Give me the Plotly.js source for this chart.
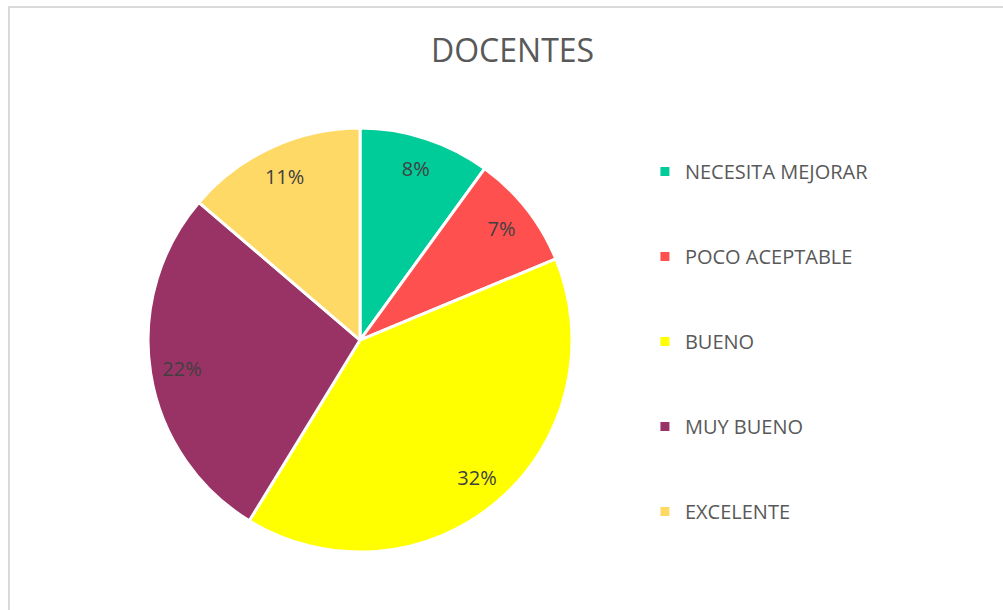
<!DOCTYPE html>
<html>
<head>
<meta charset="utf-8">
<script src="https://cdn.plot.ly/plotly-3.0.1.min.js"></script>
<style>
  html, body { margin: 0; padding: 0; background: #ffffff; }
  #wrap { position: relative; width: 1003px; height: 610px; overflow: hidden; }
  #chart { width: 1003px; height: 610px; }
  #frame { position: absolute; left: 8px; top: 6px; width: 1100px; height: 700px;
           border-left: 2px solid #d9d9d9; border-top: 2px solid #d9d9d9; pointer-events: none; }
</style>
</head>
<body>
<div id="wrap">
  <div id="chart"></div>
  <div id="frame"></div>
</div>
<script>
const categories = ["NECESITA MEJORAR", "POCO ACEPTABLE", "BUENO", "MUY BUENO", "EXCELENTE"];
const values = [8, 7, 32, 22, 11];
const colors = ["#00CC99", "#FF5050", "#FFFF00", "#993366", "#FFD966"];

const FONT = "'Open Sans', Carlito, Calibri, sans-serif";
const dom = { x: [0.1476, 0.5703], y: [0.095, 0.79] };

const pieMain = {
  type: "pie",
  labels: categories,
  values: values,
  sort: false,
  direction: "clockwise",
  rotation: 0,
  domain: dom,
  marker: { colors: colors, line: { color: "#ffffff", width: 3 } },
  textinfo: "none",
  showlegend: false,
  hoverinfo: "label+value"
};

// transparent ring used only to position the value labels near the rim
const pieLabels = {
  type: "pie",
  labels: categories,
  values: values,
  sort: false,
  direction: "clockwise",
  rotation: 0,
  domain: dom,
  hole: 0.7,
  marker: { colors: categories.map(() => "rgba(0,0,0,0)"), line: { width: 0 } },
  texttemplate: "%{value}%",
  textposition: "inside",
  insidetextorientation: "horizontal",
  insidetextfont: { family: FONT, size: 20, color: "#404040" },
  showlegend: false,
  hoverinfo: "skip"
};

// legend entries (one group each so the spacing can follow the original)
const legendTraces = categories.map((c, i) => ({
  type: "scatter",
  mode: "markers",
  x: [null], y: [null],
  name: c,
  legendgroup: "g" + i,
  marker: { symbol: "square", size: 9, color: colors[i] },
  hoverinfo: "skip"
}));

const layout = {
  width: 1003,
  height: 610,
  margin: { l: 0, r: 0, t: 0, b: 0 },
  paper_bgcolor: "#ffffff",
  plot_bgcolor: "rgba(0,0,0,0)",
  font: { family: FONT, color: "#595959" },
  title: {
    text: "DOCENTES",
    x: 0.511, xanchor: "center",
    y: 0.916, yanchor: "middle",
    font: { family: FONT, size: 32, color: "#595959" }
  },
  xaxis: { visible: false, domain: [0.9, 1] },
  yaxis: { visible: false, domain: [0.9, 1] },
  showlegend: true,
  legend: {
    x: 0.643, xanchor: "left",
    y: 1 - 152 / 610, yanchor: "top",
    font: { family: FONT, size: 20, color: "#595959" },
    tracegroupgap: 56,
    itemwidth: 30,
    bgcolor: "rgba(0,0,0,0)",
    traceorder: "grouped"
  }
};

Plotly.newPlot("chart", [pieMain, pieLabels, ...legendTraces], layout, { displayModeBar: false, staticPlot: true });
</script>
</body>
</html>
